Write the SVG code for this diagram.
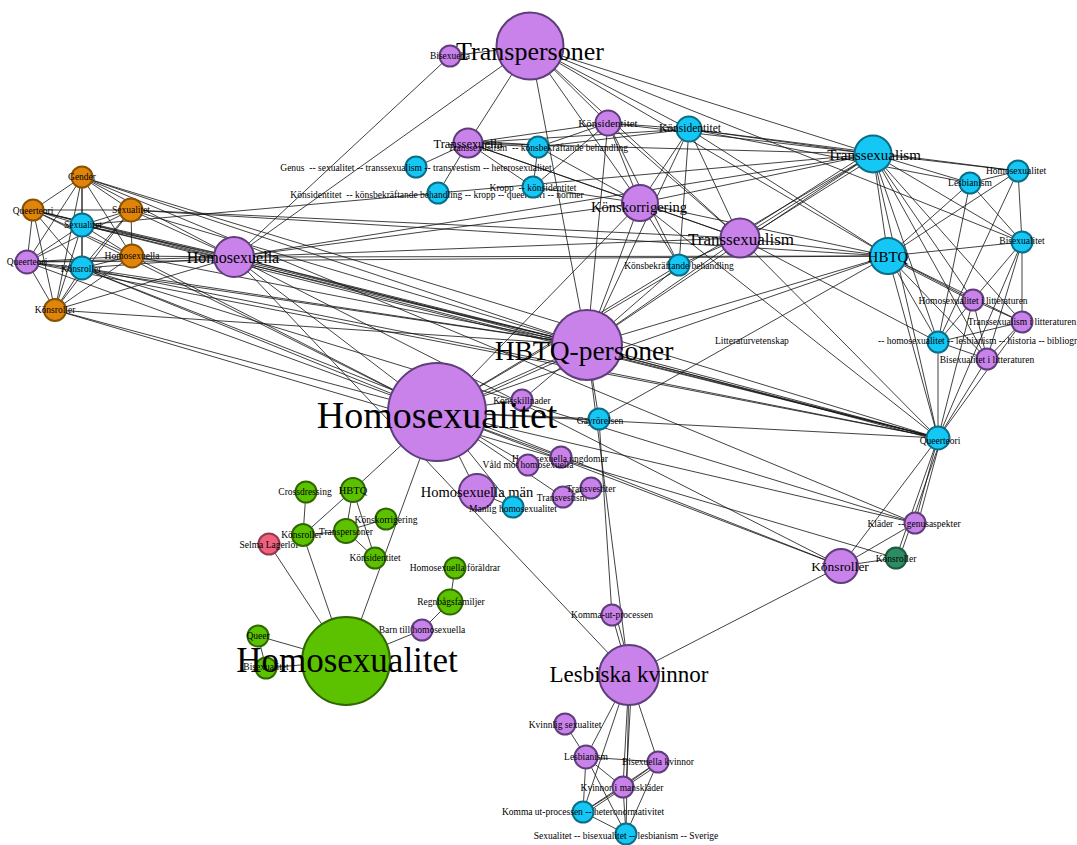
<svg xmlns="http://www.w3.org/2000/svg" width="1077" height="845" viewBox="0 0 1077 845" font-size="9.5">
<style>
.e{stroke:#151515;stroke-width:0.9;stroke-opacity:0.9;fill:none}
text{font-family:"Liberation Serif","Times New Roman",serif;text-anchor:middle;fill:#000}
text.s{text-anchor:start}
.p{fill:#c882ea;stroke:#5f3e7c;stroke-width:2}
.c{fill:#14c7f5;stroke:#0d6d86;stroke-width:2}
.o{fill:#e0850b;stroke:#8a5200;stroke-width:2}
.g{fill:#5cc200;stroke:#2f6800;stroke-width:2}
.r{fill:#f0607f;stroke:#933a4f;stroke-width:2}
.d{fill:#2e8c64;stroke:#1b5b3e;stroke-width:2}
</style>
<rect width="1077" height="845" fill="#fff"/>
<g id="connectors">
<line class="e" x1="82" y1="177" x2="33" y2="210"/>
<line class="e" x1="82" y1="177" x2="131" y2="210"/>
<line class="e" x1="82" y1="177" x2="82" y2="225"/>
<line class="e" x1="82" y1="177" x2="132" y2="256"/>
<line class="e" x1="82" y1="177" x2="27" y2="262"/>
<line class="e" x1="82" y1="177" x2="82" y2="268"/>
<line class="e" x1="82" y1="177" x2="55" y2="310"/>
<line class="e" x1="33" y1="210" x2="131" y2="210"/>
<line class="e" x1="33" y1="210" x2="82" y2="225"/>
<line class="e" x1="33" y1="210" x2="132" y2="256"/>
<line class="e" x1="33" y1="210" x2="27" y2="262"/>
<line class="e" x1="33" y1="210" x2="82" y2="268"/>
<line class="e" x1="33" y1="210" x2="55" y2="310"/>
<line class="e" x1="131" y1="210" x2="82" y2="225"/>
<line class="e" x1="131" y1="210" x2="132" y2="256"/>
<line class="e" x1="131" y1="210" x2="27" y2="262"/>
<line class="e" x1="131" y1="210" x2="82" y2="268"/>
<line class="e" x1="131" y1="210" x2="55" y2="310"/>
<line class="e" x1="82" y1="225" x2="132" y2="256"/>
<line class="e" x1="82" y1="225" x2="27" y2="262"/>
<line class="e" x1="82" y1="225" x2="82" y2="268"/>
<line class="e" x1="82" y1="225" x2="55" y2="310"/>
<line class="e" x1="132" y1="256" x2="27" y2="262"/>
<line class="e" x1="132" y1="256" x2="82" y2="268"/>
<line class="e" x1="132" y1="256" x2="55" y2="310"/>
<line class="e" x1="27" y1="262" x2="82" y2="268"/>
<line class="e" x1="27" y1="262" x2="55" y2="310"/>
<line class="e" x1="82" y1="268" x2="55" y2="310"/>
<line class="e" x1="82" y1="177" x2="234" y2="257"/>
<line class="e" x1="33" y1="210" x2="234" y2="257"/>
<line class="e" x1="131" y1="210" x2="234" y2="257"/>
<line class="e" x1="82" y1="225" x2="234" y2="257"/>
<line class="e" x1="132" y1="256" x2="234" y2="257"/>
<line class="e" x1="27" y1="262" x2="234" y2="257"/>
<line class="e" x1="82" y1="268" x2="234" y2="257"/>
<line class="e" x1="55" y1="310" x2="234" y2="257"/>
<line class="e" x1="82" y1="177" x2="587" y2="345"/>
<line class="e" x1="82" y1="177" x2="938" y2="438"/>
<line class="e" x1="82" y1="177" x2="915" y2="523"/>
<line class="e" x1="33" y1="210" x2="587" y2="345"/>
<line class="e" x1="33" y1="210" x2="938" y2="438"/>
<line class="e" x1="33" y1="210" x2="437" y2="412"/>
<line class="e" x1="131" y1="210" x2="587" y2="345"/>
<line class="e" x1="131" y1="210" x2="740" y2="238"/>
<line class="e" x1="131" y1="210" x2="888" y2="256"/>
<line class="e" x1="82" y1="225" x2="587" y2="345"/>
<line class="e" x1="82" y1="225" x2="938" y2="438"/>
<line class="e" x1="82" y1="225" x2="873" y2="154"/>
<line class="e" x1="132" y1="256" x2="587" y2="345"/>
<line class="e" x1="132" y1="256" x2="437" y2="412"/>
<line class="e" x1="27" y1="262" x2="587" y2="345"/>
<line class="e" x1="27" y1="262" x2="437" y2="412"/>
<line class="e" x1="27" y1="262" x2="938" y2="438"/>
<line class="e" x1="27" y1="262" x2="888" y2="256"/>
<line class="e" x1="82" y1="268" x2="587" y2="345"/>
<line class="e" x1="82" y1="268" x2="437" y2="412"/>
<line class="e" x1="82" y1="268" x2="938" y2="438"/>
<line class="e" x1="82" y1="268" x2="915" y2="523"/>
<line class="e" x1="82" y1="268" x2="841" y2="566"/>
<line class="e" x1="55" y1="310" x2="587" y2="345"/>
<line class="e" x1="55" y1="310" x2="437" y2="412"/>
<line class="e" x1="55" y1="310" x2="896" y2="558"/>
<line class="e" x1="234" y1="257" x2="530" y2="46"/>
<line class="e" x1="234" y1="257" x2="450" y2="56"/>
<line class="e" x1="234" y1="257" x2="587" y2="345"/>
<line class="e" x1="234" y1="257" x2="437" y2="412"/>
<line class="e" x1="234" y1="257" x2="629" y2="675"/>
<line class="e" x1="234" y1="257" x2="740" y2="238"/>
<line class="e" x1="234" y1="257" x2="888" y2="256"/>
<line class="e" x1="234" y1="257" x2="873" y2="154"/>
<line class="e" x1="234" y1="257" x2="640" y2="203"/>
<line class="e" x1="234" y1="257" x2="938" y2="438"/>
<line class="e" x1="234" y1="257" x2="841" y2="566"/>
<line class="e" x1="530" y1="46" x2="450" y2="56"/>
<line class="e" x1="530" y1="46" x2="468" y2="143"/>
<line class="e" x1="530" y1="46" x2="608" y2="123"/>
<line class="e" x1="530" y1="46" x2="640" y2="203"/>
<line class="e" x1="530" y1="46" x2="740" y2="238"/>
<line class="e" x1="530" y1="46" x2="587" y2="345"/>
<line class="e" x1="530" y1="46" x2="689" y2="129"/>
<line class="e" x1="530" y1="46" x2="873" y2="154"/>
<line class="e" x1="530" y1="46" x2="1022" y2="242"/>
<line class="e" x1="530" y1="46" x2="888" y2="256"/>
<line class="e" x1="468" y1="143" x2="416" y2="167"/>
<line class="e" x1="468" y1="143" x2="438" y2="193"/>
<line class="e" x1="468" y1="143" x2="538" y2="147"/>
<line class="e" x1="468" y1="141" x2="538" y2="145"/>
<line class="e" x1="468" y1="143" x2="533" y2="187"/>
<line class="e" x1="468" y1="143" x2="640" y2="203"/>
<line class="e" x1="468" y1="143" x2="608" y2="123"/>
<line class="e" x1="468" y1="143" x2="740" y2="238"/>
<line class="e" x1="468" y1="143" x2="873" y2="154"/>
<line class="e" x1="468" y1="143" x2="689" y2="129"/>
<line class="e" x1="538" y1="147" x2="608" y2="123"/>
<line class="e" x1="538" y1="147" x2="640" y2="203"/>
<line class="e" x1="538" y1="147" x2="689" y2="129"/>
<line class="e" x1="538" y1="147" x2="533" y2="187"/>
<line class="e" x1="533" y1="187" x2="640" y2="203"/>
<line class="e" x1="533" y1="187" x2="608" y2="123"/>
<line class="e" x1="608" y1="123" x2="640" y2="203"/>
<line class="e" x1="608" y1="123" x2="740" y2="238"/>
<line class="e" x1="608" y1="123" x2="679" y2="265"/>
<line class="e" x1="608" y1="123" x2="689" y2="129"/>
<line class="e" x1="608" y1="123" x2="873" y2="154"/>
<line class="e" x1="608" y1="123" x2="587" y2="345"/>
<line class="e" x1="689" y1="129" x2="640" y2="203"/>
<line class="e" x1="689" y1="129" x2="740" y2="238"/>
<line class="e" x1="689" y1="129" x2="679" y2="265"/>
<line class="e" x1="689" y1="129" x2="873" y2="154"/>
<line class="e" x1="689" y1="129" x2="888" y2="256"/>
<line class="e" x1="689" y1="129" x2="587" y2="345"/>
<line class="e" x1="689" y1="129" x2="970" y2="183"/>
<line class="e" x1="689" y1="129" x2="1018" y2="171"/>
<line class="e" x1="640" y1="203" x2="740" y2="238"/>
<line class="e" x1="640" y1="203" x2="679" y2="265"/>
<line class="e" x1="640" y1="203" x2="587" y2="345"/>
<line class="e" x1="640" y1="203" x2="873" y2="154"/>
<line class="e" x1="640" y1="203" x2="888" y2="256"/>
<line class="e" x1="640" y1="203" x2="437" y2="412"/>
<line class="e" x1="640" y1="203" x2="938" y2="438"/>
<line class="e" x1="740" y1="238" x2="873" y2="154"/>
<line class="e" x1="741" y1="241" x2="875" y2="157"/>
<line class="e" x1="738" y1="236" x2="871" y2="151"/>
<line class="e" x1="740" y1="238" x2="888" y2="256"/>
<line class="e" x1="740" y1="238" x2="587" y2="345"/>
<line class="e" x1="740" y1="238" x2="938" y2="438"/>
<line class="e" x1="740" y1="238" x2="679" y2="265"/>
<line class="e" x1="740" y1="238" x2="938" y2="342"/>
<line class="e" x1="679" y1="265" x2="587" y2="345"/>
<line class="e" x1="679" y1="265" x2="437" y2="412"/>
<line class="e" x1="873" y1="154" x2="888" y2="256"/>
<line class="e" x1="873" y1="154" x2="1018" y2="171"/>
<line class="e" x1="873" y1="154" x2="970" y2="183"/>
<line class="e" x1="873" y1="154" x2="1022" y2="242"/>
<line class="e" x1="873" y1="154" x2="973" y2="300"/>
<line class="e" x1="873" y1="154" x2="1022" y2="322"/>
<line class="e" x1="873" y1="154" x2="938" y2="342"/>
<line class="e" x1="873" y1="154" x2="987" y2="359"/>
<line class="e" x1="873" y1="154" x2="938" y2="438"/>
<line class="e" x1="873" y1="154" x2="587" y2="345"/>
<line class="e" x1="873" y1="154" x2="437" y2="412"/>
<line class="e" x1="888" y1="256" x2="1018" y2="171"/>
<line class="e" x1="888" y1="256" x2="970" y2="183"/>
<line class="e" x1="888" y1="256" x2="1022" y2="242"/>
<line class="e" x1="888" y1="256" x2="973" y2="300"/>
<line class="e" x1="889" y1="258" x2="974" y2="302"/>
<line class="e" x1="888" y1="256" x2="1022" y2="322"/>
<line class="e" x1="888" y1="256" x2="938" y2="342"/>
<line class="e" x1="888" y1="256" x2="987" y2="359"/>
<line class="e" x1="888" y1="256" x2="938" y2="438"/>
<line class="e" x1="888" y1="256" x2="587" y2="345"/>
<line class="e" x1="888" y1="256" x2="437" y2="412"/>
<line class="e" x1="888" y1="256" x2="599" y2="419"/>
<line class="e" x1="1018" y1="171" x2="970" y2="183"/>
<line class="e" x1="1018" y1="171" x2="1022" y2="242"/>
<line class="e" x1="970" y1="183" x2="1022" y2="242"/>
<line class="e" x1="970" y1="183" x2="938" y2="342"/>
<line class="e" x1="1022" y1="242" x2="973" y2="300"/>
<line class="e" x1="1022" y1="242" x2="987" y2="359"/>
<line class="e" x1="1022" y1="242" x2="1022" y2="322"/>
<line class="e" x1="1022" y1="242" x2="938" y2="438"/>
<line class="e" x1="973" y1="300" x2="1022" y2="322"/>
<line class="e" x1="973" y1="300" x2="938" y2="342"/>
<line class="e" x1="973" y1="300" x2="987" y2="359"/>
<line class="e" x1="973" y1="300" x2="938" y2="438"/>
<line class="e" x1="1022" y1="322" x2="938" y2="342"/>
<line class="e" x1="1022" y1="322" x2="987" y2="359"/>
<line class="e" x1="1022" y1="322" x2="938" y2="438"/>
<line class="e" x1="938" y1="342" x2="987" y2="359"/>
<line class="e" x1="938" y1="342" x2="938" y2="438"/>
<line class="e" x1="987" y1="359" x2="938" y2="438"/>
<line class="e" x1="1018" y1="171" x2="938" y2="342"/>
<line class="e" x1="938" y1="438" x2="915" y2="523"/>
<line class="e" x1="941" y1="438" x2="918" y2="523"/>
<line class="e" x1="938" y1="438" x2="896" y2="558"/>
<line class="e" x1="941" y1="439" x2="899" y2="559"/>
<line class="e" x1="938" y1="438" x2="841" y2="566"/>
<line class="e" x1="938" y1="438" x2="437" y2="412"/>
<line class="e" x1="938" y1="438" x2="587" y2="345"/>
<line class="e" x1="938" y1="440" x2="587" y2="347"/>
<line class="e" x1="841" y1="566" x2="915" y2="523"/>
<line class="e" x1="841" y1="566" x2="896" y2="558"/>
<line class="e" x1="841" y1="566" x2="629" y2="675"/>
<line class="e" x1="841" y1="566" x2="437" y2="412"/>
<line class="e" x1="437" y1="412" x2="915" y2="523"/>
<line class="e" x1="587" y1="345" x2="599" y2="419"/>
<line class="e" x1="587" y1="345" x2="522" y2="400"/>
<line class="e" x1="587" y1="345" x2="629" y2="675"/>
<line class="e" x1="587" y1="345" x2="437" y2="412"/>
<line class="e" x1="587" y1="348" x2="437" y2="415"/>
<line class="e" x1="437" y1="412" x2="522" y2="400"/>
<line class="e" x1="437" y1="412" x2="599" y2="419"/>
<line class="e" x1="437" y1="412" x2="561" y2="457"/>
<line class="e" x1="437" y1="412" x2="528" y2="465"/>
<line class="e" x1="437" y1="412" x2="477" y2="492"/>
<line class="e" x1="437" y1="412" x2="513" y2="507"/>
<line class="e" x1="437" y1="412" x2="353" y2="490"/>
<line class="e" x1="437" y1="412" x2="346" y2="661"/>
<line class="e" x1="437" y1="412" x2="563" y2="497"/>
<line class="e" x1="477" y1="492" x2="513" y2="507"/>
<line class="e" x1="563" y1="497" x2="591" y2="488"/>
<line class="e" x1="599" y1="419" x2="612" y2="615"/>
<line class="e" x1="353" y1="490" x2="303" y2="535"/>
<line class="e" x1="353" y1="490" x2="346" y2="531"/>
<line class="e" x1="353" y1="490" x2="375" y2="558"/>
<line class="e" x1="306" y1="492" x2="303" y2="535"/>
<line class="e" x1="303" y1="535" x2="346" y2="531"/>
<line class="e" x1="303" y1="535" x2="346" y2="661"/>
<line class="e" x1="346" y1="531" x2="386" y2="519"/>
<line class="e" x1="346" y1="531" x2="375" y2="558"/>
<line class="e" x1="269" y1="544" x2="346" y2="661"/>
<line class="e" x1="455" y1="568" x2="450" y2="602"/>
<line class="e" x1="450" y1="602" x2="422" y2="630"/>
<line class="e" x1="422" y1="630" x2="346" y2="661"/>
<line class="e" x1="258" y1="636" x2="346" y2="661"/>
<line class="e" x1="258" y1="636" x2="266" y2="668"/>
<line class="e" x1="266" y1="668" x2="346" y2="661"/>
<line class="e" x1="612" y1="615" x2="629" y2="675"/>
<line class="e" x1="616" y1="615" x2="632" y2="675"/>
<line class="e" x1="629" y1="675" x2="586" y2="757"/>
<line class="e" x1="629" y1="675" x2="658" y2="762"/>
<line class="e" x1="629" y1="675" x2="623" y2="787"/>
<line class="e" x1="632" y1="675" x2="626" y2="787"/>
<line class="e" x1="629" y1="675" x2="583" y2="812"/>
<line class="e" x1="629" y1="675" x2="626" y2="834"/>
<line class="e" x1="565" y1="724" x2="586" y2="757"/>
<line class="e" x1="586" y1="757" x2="658" y2="762"/>
<line class="e" x1="586" y1="757" x2="623" y2="787"/>
<line class="e" x1="586" y1="757" x2="583" y2="812"/>
<line class="e" x1="586" y1="757" x2="626" y2="834"/>
<line class="e" x1="658" y1="762" x2="623" y2="787"/>
<line class="e" x1="658" y1="762" x2="583" y2="812"/>
<line class="e" x1="658" y1="765" x2="583" y2="815"/>
<line class="e" x1="658" y1="762" x2="626" y2="834"/>
<line class="e" x1="623" y1="787" x2="583" y2="812"/>
<line class="e" x1="623" y1="787" x2="626" y2="834"/>
<line class="e" x1="583" y1="812" x2="626" y2="834"/>
</g>
<g id="n-bisexuella"><circle class="p" cx="450" cy="56" r="10.5"/><text x="450" y="58.5">Bisexuella</text></g>
<g id="n-genus"><circle class="c" cx="416" cy="167" r="10.5"/><text x="416" y="170.7" xml:space="preserve">Genus  -- sexualitet -- transsexualism -- transvestism -- heterosexualitet</text></g>
<g id="n-konsid-kropp"><circle class="c" cx="438" cy="193" r="10.5"/><text x="437" y="197.7" xml:space="preserve">Könsidentitet  -- könsbekräftande behandling -- kropp -- queerteori -- normer</text></g>
<g id="n-kropp"><circle class="c" cx="533" cy="187" r="10.5"/><text x="533" y="191" xml:space="preserve">Kropp  -- könsidentitet</text></g>
<g id="n-transsexuella"><circle class="p" cx="468" cy="143" r="14.5" stroke-width="3"/><text x="468" y="148" font-size="12.5">Transsexuella</text></g>
<g id="n-transsexualism-kb"><circle class="c" cx="538" cy="147" r="10.5"/><text x="538" y="150.7" xml:space="preserve">Transsexualism  -- könsbekräftande behandling</text></g>
<g id="n-konsid-p"><circle class="p" cx="608" cy="123" r="12.5" stroke-width="2.5"/><text x="608" y="126.7" font-size="11">Könsidentitet</text></g>
<g id="n-konsid-c"><circle class="c" cx="689" cy="129" r="12.5" stroke-width="2.5"/><text x="690" y="132.3" font-size="11.5">Könsidentitet</text></g>
<g id="n-kbb"><circle class="c" cx="679" cy="265" r="10.5"/><text x="679" y="269.3">Könsbekräftande behandling</text></g>
<g id="n-homosexualitet-c"><circle class="c" cx="1018" cy="171" r="10.5"/><text x="1016" y="174.3">Homosexualitet</text></g>
<g id="n-lesbianism-c"><circle class="c" cx="970" cy="183" r="10.5"/><text x="970" y="185.7">Lesbianism</text></g>
<g id="n-bisexualitet-c"><circle class="c" cx="1022" cy="242" r="10.5"/><text x="1022" y="244.3">Bisexualitet</text></g>
<g id="n-hil"><circle class="p" cx="973" cy="300" r="10.5"/><text x="973" y="304">Homosexualitet i litteraturen</text></g>
<g id="n-til"><circle class="p" cx="1022" cy="322" r="10.5"/><text x="1022" y="325">Transsexualism i litteraturen</text></g>
<g id="n-litt"><circle class="c" cx="938" cy="342" r="10.5"/><text class="s" x="715" y="344.3">Litteraturvetenskap<tspan x="878">-- homosexualitet -- lesbianism -- historia -- bibliografi</tspan></text></g>
<g id="n-bil"><circle class="p" cx="987" cy="359" r="10.5"/><text x="987" y="362.7">Bisexualitet i litteraturen</text></g>
<g id="n-queerteori-c"><circle class="c" cx="938" cy="438" r="11.5"/><text x="940" y="444">Queerteori</text></g>
<g id="n-klader"><circle class="p" cx="915" cy="523" r="10.5"/><text x="914" y="526.7" xml:space="preserve">Kläder  -- genusaspekter</text></g>
<g id="n-konsroller-dg"><circle class="d" cx="896" cy="558" r="10.5"/><text x="896" y="561.7">Könsroller</text></g>
<g id="n-konsskillnader"><circle class="p" cx="522" cy="400" r="10.5"/><text x="522" y="404">Könsskillnader</text></g>
<g id="n-gayrorelsen"><circle class="c" cx="599" cy="419" r="10.5"/><text x="600" y="424">Gayrörelsen</text></g>
<g id="n-hungdomar"><circle class="p" cx="561" cy="457" r="10.5"/><text x="560" y="461.7">Homosexuella ungdomar</text></g>
<g id="n-vald"><circle class="p" cx="528" cy="465" r="10.5"/><text x="528" y="468.3">Våld mot homosexuella</text></g>
<g id="n-transvestism"><circle class="p" cx="563" cy="497" r="10.5"/><text x="562" y="500.7">Transvestism</text></g>
<g id="n-transvestiter"><circle class="p" cx="591" cy="488" r="10.5"/><text x="591" y="492.3">Transvestiter</text></g>
<g id="n-hman"><circle class="p" cx="477" cy="492" r="18" stroke-width="3.5"/><text x="477" y="497.3" font-size="14.5">Homosexuella män</text></g>
<g id="n-manlig"><circle class="c" cx="513" cy="507" r="10.5"/><text x="513" y="511.7">Manlig homosexualitet</text></g>
<g id="n-g-hbtq"><circle class="g" cx="353" cy="490" r="12"/><text x="353" y="494" font-size="10.5">HBTQ</text></g>
<g id="n-g-crossdressing"><circle class="g" cx="306" cy="492" r="10.5"/><text x="305" y="495">Crossdressing</text></g>
<g id="n-selma"><circle class="r" cx="269" cy="544" r="10.5"/><text x="269" y="548.3">Selma Lagerlöf</text></g>
<g id="n-g-konsroller"><circle class="g" cx="303" cy="535" r="11"/><text x="301.5" y="538.3">Könsroller</text></g>
<g id="n-g-konskorr"><circle class="g" cx="386" cy="519" r="10.5"/><text x="386" y="523.3">Könskorrigering</text></g>
<g id="n-g-transpersoner"><circle class="g" cx="346" cy="531" r="12"/><text x="346" y="535">Transpersoner</text></g>
<g id="n-g-konsid"><circle class="g" cx="375" cy="558" r="10.5"/><text x="375" y="561">Könsidentitet</text></g>
<g id="n-g-hforaldrar"><circle class="g" cx="455" cy="568" r="10.5"/><text x="455" y="571">Homosexuella föräldrar</text></g>
<g id="n-g-regnbag"><circle class="g" cx="450" cy="602" r="12.5"/><text x="451" y="605">Regnbågsfamiljer</text></g>
<g id="n-barn"><circle class="p" cx="422" cy="630" r="10.5"/><text x="422" y="633.3">Barn till homosexuella</text></g>
<g id="n-g-queer"><circle class="g" cx="258" cy="636" r="10.5"/><text x="258" y="639">Queer</text></g>
<g id="n-g-bisexualitet"><circle class="g" cx="266" cy="668" r="10.5"/><text x="266" y="670">Bisexualitet</text></g>
<g id="n-kommaut"><circle class="p" cx="612" cy="615" r="10.5"/><text x="612" y="618.3">Komma-ut-processen</text></g>
<g id="n-kvinnlig"><circle class="p" cx="565" cy="724" r="10.5"/><text x="565" y="728.3">Kvinnlig sexualitet</text></g>
<g id="n-lesbianism-p"><circle class="p" cx="586" cy="757" r="11.5"/><text x="586" y="760">Lesbianism</text></g>
<g id="n-biskvinnor"><circle class="p" cx="658" cy="762" r="10.5"/><text x="658" y="765">Bisexuella kvinnor</text></g>
<g id="n-kvinnor-mans"><circle class="p" cx="623" cy="787" r="10.5"/><text x="622" y="790.7">Kvinnor i manskläder</text></g>
<g id="n-kommaut-het"><circle class="c" cx="583" cy="812" r="10.5"/><text x="583" y="815">Komma ut-processen -- heteronormativitet</text></g>
<g id="n-sverige"><circle class="c" cx="626" cy="834" r="10.5"/><text x="626" y="839.3">Sexualitet -- bisexualitet -- lesbianism -- Sverige</text></g>
<g id="n-o-gender"><circle class="o" cx="82" cy="177" r="10.5"/><text x="82" y="180">Gender</text></g>
<g id="n-o-queerteori"><circle class="o" cx="33" cy="210" r="10.5"/><text x="33" y="214">Queerteori</text></g>
<g id="n-o-sexualitet"><circle class="o" cx="131" cy="210" r="11.5"/><text x="131" y="212.7">Sexualitet</text></g>
<g id="n-c-sexualitet"><circle class="c" cx="82" cy="225" r="11.5"/><text x="83" y="228.3">Sexualitet</text></g>
<g id="n-o-homosexuella"><circle class="o" cx="132" cy="256" r="11.5"/><text x="132" y="259">Homosexuella</text></g>
<g id="n-p-queerteori"><circle class="p" cx="27" cy="262" r="11.5"/><text x="27" y="265">Queerteori</text></g>
<g id="n-c-konsroller"><circle class="c" cx="82" cy="268" r="11.5"/><text x="81" y="271.7">Könsroller</text></g>
<g id="n-o-konsroller"><circle class="o" cx="55" cy="310" r="11"/><text x="55" y="312.7">Könsroller</text></g>
<g id="n-konsroller-p"><circle class="p" cx="841" cy="566" r="17" stroke-width="3.5"/><text x="840" y="570.7" font-size="13.5">Könsroller</text></g>
<g id="n-konskorrigering"><circle class="p" cx="640" cy="203" r="18" stroke-width="3.5"/><text x="639" y="211.7" font-size="14.5">Könskorrigering</text></g>
<g id="n-transsexualism-p"><circle class="p" cx="740" cy="238" r="19.5" stroke-width="4"/><text x="741" y="245" font-size="17">Transsexualism</text></g>
<g id="n-transsexualism-c"><circle class="c" cx="873" cy="154" r="18.5" stroke-width="3.5"/><text x="874" y="160" font-size="15">Transsexualism</text></g>
<g id="n-hbtq-c"><circle class="c" cx="888" cy="256" r="18" stroke-width="3.5"/><text x="888" y="261.7" font-size="15">HBTQ</text></g>
<g id="n-homosexuella"><circle class="p" cx="234" cy="257" r="20" stroke-width="4"/><text x="233" y="263.3" font-size="16">Homosexuella</text></g>
<g id="n-lesbiska"><circle class="p" cx="629" cy="675" r="30" stroke-width="5"/><text x="629" y="681.7" font-size="23">Lesbiska kvinnor</text></g>
<g id="n-transpersoner"><circle class="p" cx="530" cy="46" r="33.5" stroke-width="7"/><text x="530" y="60" font-size="26">Transpersoner</text></g>
<g id="n-hbtq-personer"><circle class="p" cx="587" cy="345" r="35" stroke-width="5.5"/><text x="584" y="360" font-size="27.5">HBTQ-personer</text></g>
<g id="n-homosexualitet"><circle class="p" cx="437" cy="412" r="49" stroke-width="7"/><text x="437" y="428" font-size="38">Homosexualitet</text></g>
<g id="n-g-homosexualitet"><circle class="g" cx="346" cy="661" r="44" stroke-width="8" stroke="#2d6400"/><text x="347" y="672" font-size="35">Homosexualitet</text></g>
</svg>
